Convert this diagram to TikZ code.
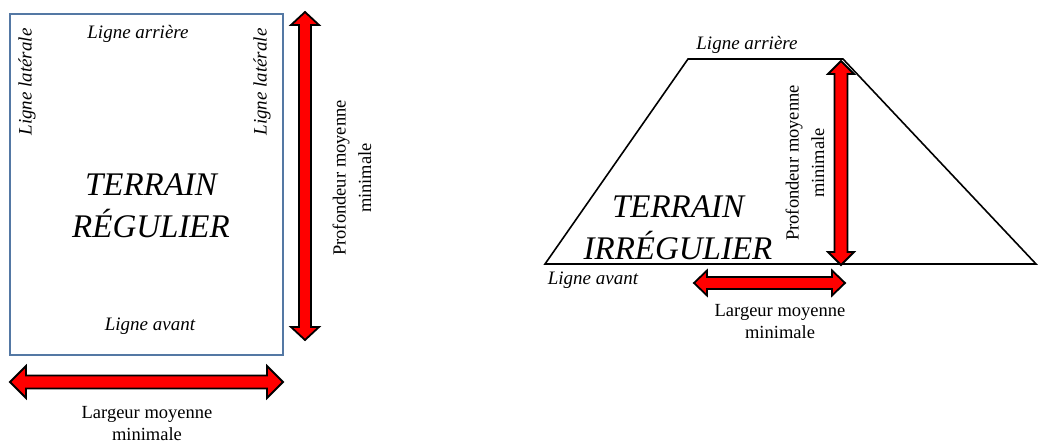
\documentclass[tikz,border=0pt]{standalone}
\usepackage{fontspec}
\setmainfont{Liberation Serif}
\definecolor{boxblue}{RGB}{84,120,164}
\newcommand\VArrow[6]{% x, ytop, ybot, shaft half, head half, head length
  \draw[arrowstyle] (#1,#2) -- ({#1+#5},{#2+#6}) -- ({#1+#4},{#2+#6}) -- ({#1+#4},{#3-#6}) -- ({#1+#5},{#3-#6}) -- (#1,#3)
   -- ({#1-#5},{#3-#6}) -- ({#1-#4},{#3-#6}) -- ({#1-#4},{#2+#6}) -- ({#1-#5},{#2+#6}) -- cycle;}
\newcommand\HArrow[6]{% y, xleft, xright, shaft half, head half, head length
  \draw[arrowstyle] (#2,#1) -- ({#2+#6},{#1-#5}) -- ({#2+#6},{#1-#4}) -- ({#3-#6},{#1-#4}) -- ({#3-#6},{#1-#5}) -- (#3,#1)
   -- ({#3-#6},{#1+#5}) -- ({#3-#6},{#1+#4}) -- ({#2+#6},{#1+#4}) -- ({#2+#6},{#1+#5}) -- cycle;}
\begin{document}
\begin{tikzpicture}[x=1pt,y=-1pt,
  arrowstyle/.style={fill=red,draw=black,line width=1.8pt,line join=miter},
  small/.style={font=\fontsize{19}{22}\selectfont\itshape,inner sep=0pt},
  big/.style={font=\fontsize{33}{42}\selectfont\itshape,inner sep=0pt,align=center},
  dimlab/.style={font=\fontsize{18.5}{22}\selectfont,inner sep=0pt,align=center},
  dimlabr/.style={font=\fontsize{18.5}{25.5}\selectfont,inner sep=0pt,align=center,rotate=90}]
\useasboundingbox (0,0) rectangle (1038,443);
% left: regular lot
\draw[boxblue,line width=2pt] (10,14) rectangle (283,355);
\node[small] (la1) at (138,34) {Ligne arrière};
\node[small,rotate=90] (lat1) at (27,82) {Ligne latérale};
\node[small,rotate=90] (lat2) at (262,82) {Ligne latérale};
\node[big] (t1) at (151,206) {TERRAIN\\RÉGULIER};
\node[small] (lv1) at (150,326) {Ligne avant};
\VArrow{305}{12}{340}{6}{14}{13}
\node[dimlabr] (p1) at (352,178) {Profondeur moyenne\\minimale};
\HArrow{382}{10}{283}{6.5}{16}{16}
\node[dimlab] (w1) at (147,424) {Largeur moyenne\\minimale};
% right: irregular lot
\draw[black,line width=1.6pt,line join=miter] (545,264) -- (688,59) -- (843,59) -- (1036,264) -- cycle;
\node[small] (la2) at (747,45) {Ligne arrière};
\node[big] (t2) at (678,228) {TERRAIN\\IRRÉGULIER};
\node[small] (lv2) at (593,280) {Ligne avant};
\node[dimlabr] (p2) at (805,163) {Profondeur moyenne\\minimale};
\VArrow{841}{61}{265}{6.5}{13}{13}
\HArrow{283}{694}{845}{6}{12.5}{13}
\node[dimlab] (w2) at (780,322) {Largeur moyenne\\minimale};
\end{tikzpicture}
\end{document}
